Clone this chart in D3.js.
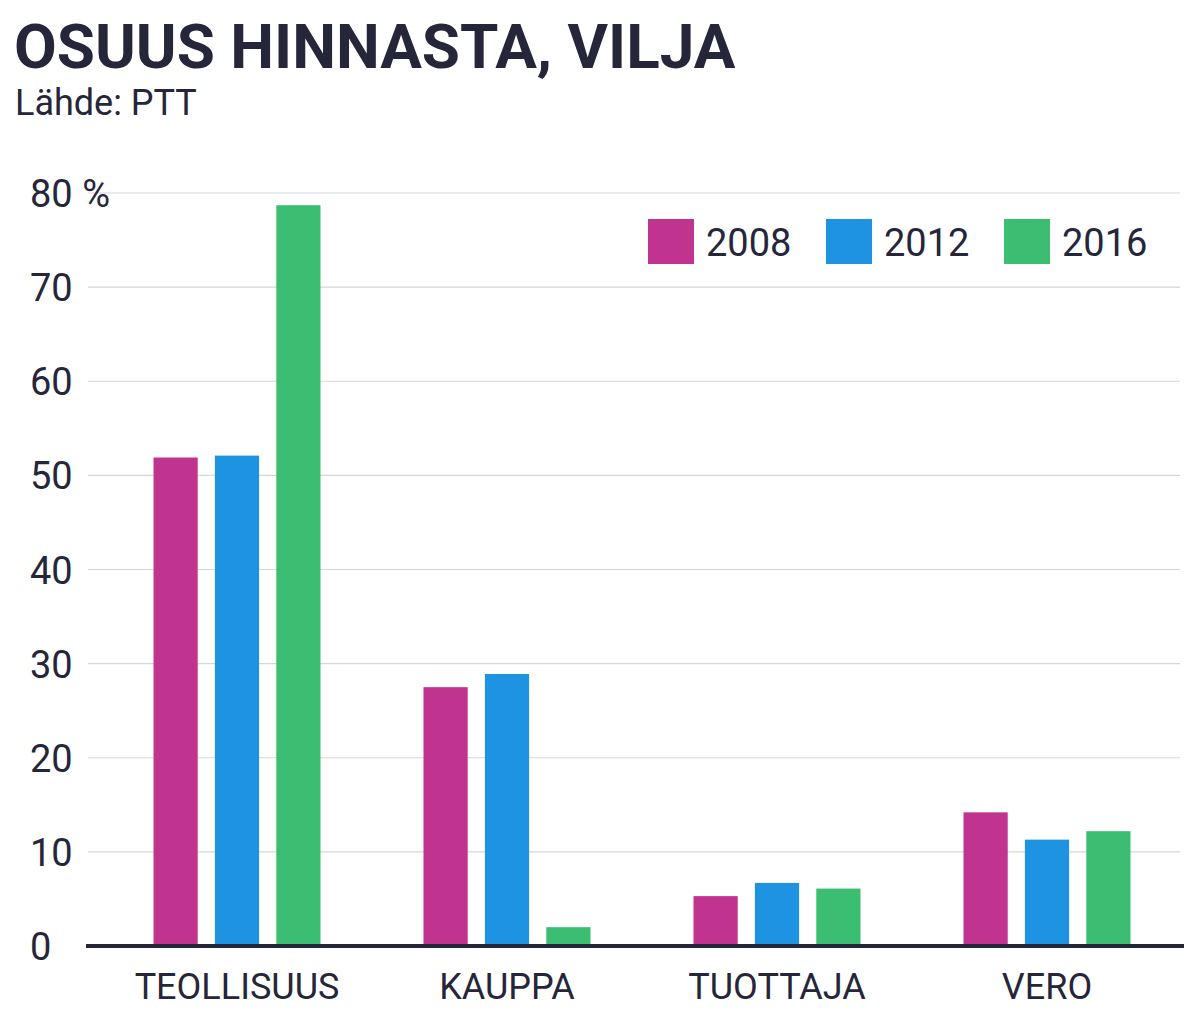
<!DOCTYPE html><html><head><meta charset="utf-8"><script src="https://d3js.org/d3.v7.min.js"></script>
<style>body{margin:0;background:#fff}text{font-family:"Liberation Sans Narrow","Roboto",sans-serif;fill:#26263a}</style></head><body>
<svg id="c" width="1199" height="1018"></svg>
<script>
const categories=["TEOLLISUUS","KAUPPA","TUOTTAJA","VERO"];
const years=["2008","2012","2016"];
const v2008=[51.9,27.5,5.3,14.2];
const v2012=[52.1,28.9,6.7,11.3];
const v2016=[78.7,2.0,6.1,12.2];
const yTicks=[0,10,20,30,40,50,60,70,80];
const colors=["#c0348f","#1e93e2","#3bbd72"];
const series=[v2008,v2012,v2016];
const svg=d3.select("#c");
svg.append("text").attr("x",14).attr("y",68).attr("font-size",62).attr("font-weight","bold").text("OSUUS HINNASTA, VILJA");
svg.append("text").attr("x",15).attr("y",115).attr("font-size",36).text("Lähde: PTT");
const y=d3.scaleLinear().domain([0,80]).range([946,193]);
const x=d3.scaleBand().domain(categories).range([102,1182]);
const xi=d3.scaleBand().domain(years).range([0,167]).paddingInner(0.28);
svg.append("g").selectAll("line").data(yTicks.slice(1)).join("line").attr("x1",88).attr("x2",1180).attr("y1",d=>y(d)).attr("y2",d=>y(d)).attr("stroke","#d6d6d6").attr("stroke-width",1.2);
svg.append("g").selectAll("text").data(yTicks).join("text").attr("x",30).attr("y",d=>y(d)+14).attr("font-size",38).text(d=>d===80?"80 %":d);
years.forEach((yr,i)=>{
 svg.append("g").selectAll("rect").data(series[i]).join("rect")
 .attr("x",(d,j)=>x(categories[j])+x.bandwidth()/2-83.5+xi(yr)).attr("width",xi.bandwidth())
 .attr("y",d=>y(d)).attr("height",d=>y(0)-y(d)).attr("fill",colors[i]);
 const lx=648+i*178;
 svg.append("rect").attr("x",lx).attr("y",219).attr("width",46).attr("height",45).attr("fill",colors[i]);
 svg.append("text").attr("x",lx+58).attr("y",256).attr("font-size",38).text(yr);
});
svg.append("line").attr("x1",86).attr("x2",1184).attr("y1",946).attr("y2",946).attr("stroke","#26263a").attr("stroke-width",4);
svg.append("g").selectAll("text").data(categories).join("text").attr("x",d=>x(d)+x.bandwidth()/2).attr("y",999).attr("text-anchor","middle").attr("font-size",36).text(d=>d);
</script></body></html>
